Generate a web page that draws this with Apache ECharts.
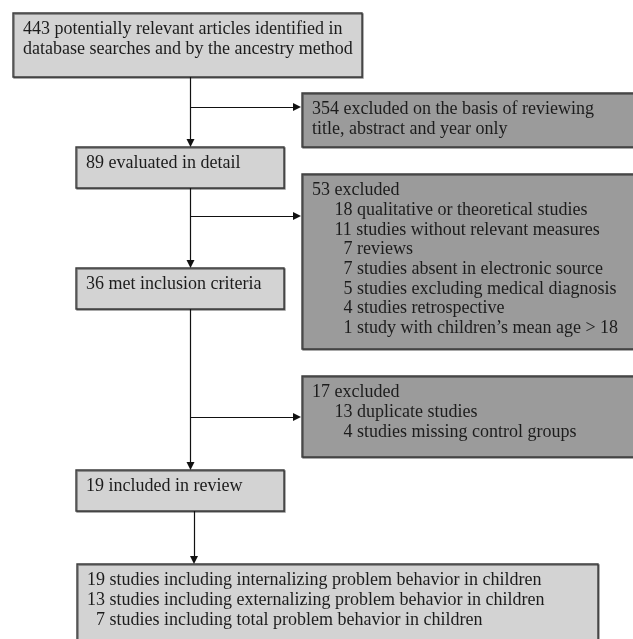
<!DOCTYPE html>
<html>
<head>
<meta charset="utf-8">
<script src="https://cdn.jsdelivr.net/npm/echarts@6/dist/echarts.min.js"></script>
<style>
html,body{margin:0;padding:0;background:#fff;}
#main{width:633px;height:639px;}
</style>
</head>
<body>
<div id="main"></div>
<script>
// ---- data ----
const stageCounts = [443, 89, 36, 19];
const stageLabels = [
  ['potentially relevant articles identified in', 'database searches and by the ancestry method'],
  ['evaluated in detail'],
  ['met inclusion criteria'],
  ['included in review']
];
const excludedCounts = [354, 53, 17];
const excludedHeads = [
  ['excluded on the basis of reviewing', 'title, abstract and year only'],
  ['excluded'],
  ['excluded']
];
const reasonCounts53 = [18, 11, 7, 7, 5, 4, 1];
const reasonLabels53 = [
  'qualitative or theoretical studies',
  'studies without relevant measures',
  'reviews',
  'studies absent in electronic source',
  'studies excluding medical diagnosis',
  'studies retrospective',
  'study with children\u2019s mean age > 18'
];
const reasonCounts17 = [13, 4];
const reasonLabels17 = ['duplicate studies', 'studies missing control groups'];
const outcomeCounts = [19, 13, 7];
const outcomeLabels = [
  'studies including internalizing problem behavior in children',
  'studies including externalizing problem behavior in children',
  'studies including total problem behavior in children'
];

// ---- text building ----
function num2(n) { return (n < 10 ? '  ' : '') + n; }
function headLines(count, parts) {
  return parts.map((t, i) => i === 0 ? count + ' ' + t : t);
}
function reasonLines(counts, labels) {
  return counts.map((c, i) => '     ' + num2(c) + ' ' + labels[i]);
}
const boxTexts = [
  headLines(stageCounts[0], stageLabels[0]),
  headLines(excludedCounts[0], excludedHeads[0]),
  headLines(stageCounts[1], stageLabels[1]),
  headLines(excludedCounts[1], excludedHeads[1]).concat(reasonLines(reasonCounts53, reasonLabels53)),
  headLines(stageCounts[2], stageLabels[2]),
  headLines(excludedCounts[2], excludedHeads[2]).concat(reasonLines(reasonCounts17, reasonLabels17)),
  headLines(stageCounts[3], stageLabels[3]),
  outcomeCounts.map((c, i) => num2(c) + ' ' + outcomeLabels[i])
];

// ---- layout (page coordinates, mapped through hidden axes) ----
const LIGHT = '#d3d3d3', DARK = '#9b9b9b';
const boxLayout = [
  { x0: 13,  y0: 13,  x1: 362, y1: 77,  fill: LIGHT },
  { x0: 302, y0: 93,  x1: 640, y1: 147, fill: DARK },
  { x0: 76,  y0: 147, x1: 284, y1: 188, fill: LIGHT },
  { x0: 302, y0: 174, x1: 640, y1: 349, fill: DARK },
  { x0: 76,  y0: 268, x1: 284, y1: 309, fill: LIGHT },
  { x0: 302, y0: 376, x1: 640, y1: 457, fill: DARK },
  { x0: 76,  y0: 470, x1: 284, y1: 511, fill: LIGHT },
  { x0: 77,  y0: 564, x1: 598, y1: 660, fill: LIGHT }
];
const connectors = [
  { from: [190.5, 77],  to: [190.5, 143], arrow: true },
  { from: [190.5, 107], to: [297, 107],   arrow: true },
  { from: [190.5, 188], to: [190.5, 264], arrow: true },
  { from: [190.5, 216], to: [297, 216],   arrow: true },
  { from: [190.5, 309], to: [190.5, 466], arrow: true },
  { from: [190.5, 417], to: [297, 417],   arrow: true },
  { from: [194, 511],   to: [194, 560],   arrow: true }
];

const FONT = '18px "Liberation Serif", "Times New Roman", serif';

const chart = echarts.init(document.getElementById('main'), null, { renderer: 'canvas' });
chart.setOption({
  animation: false,
  backgroundColor: '#ffffff',
  grid: { left: 0, right: 0, top: 0, bottom: 0 },
  xAxis: { type: 'value', min: 0, max: 633, show: false },
  yAxis: { type: 'value', min: 0, max: 639, inverse: true, show: false },
  series: [
    {
      type: 'custom',
      coordinateSystem: 'cartesian2d',
      clip: false,
      silent: true,
      data: boxLayout.map((b, i) => [b.x0, b.y0, b.x1, b.y1, i]),
      encode: { x: [0, 2], y: [1, 3] },
      renderItem: function (params, api) {
        const idx = api.value(4);
        const p0 = api.coord([api.value(0), api.value(1)]);
        const p1 = api.coord([api.value(2), api.value(3)]);
        const lines = boxTexts[idx];
        const children = [{
          type: 'rect',
          shape: { x: p0[0], y: p0[1], width: p1[0] - p0[0], height: p1[1] - p0[1] },
          style: {
            fill: boxLayout[idx].fill,
            stroke: '#3c3c3c',
            lineWidth: 1.4,
            shadowColor: 'rgba(0,0,0,0.45)',
            shadowOffsetX: 1,
            shadowOffsetY: 1,
            shadowBlur: 0
          }
        }];
        lines.forEach((t, i) => {
          children.push({
            type: 'text',
            style: {
              text: t,
              x: p0[0] + 10,
              y: p0[1] + 16.5 + i * 19.7,
              font: FONT,
              fill: '#1c1c1c',
              align: 'left',
              verticalAlign: 'middle'
            }
          });
        });
        return { type: 'group', children: children };
      }
    },
    {
      type: 'lines',
      coordinateSystem: 'cartesian2d',
      silent: true,
      symbol: ['none', 'triangle'],
      symbolSize: [0, 8],
      lineStyle: { color: '#111111', width: 1.2, opacity: 1 },
      itemStyle: { color: '#111111' },
      data: connectors.map(c => ({
        coords: [c.from, c.to],
        symbol: c.arrow ? ['none', 'triangle'] : ['none', 'none']
      }))
    }
  ]
});
</script>
</body>
</html>
